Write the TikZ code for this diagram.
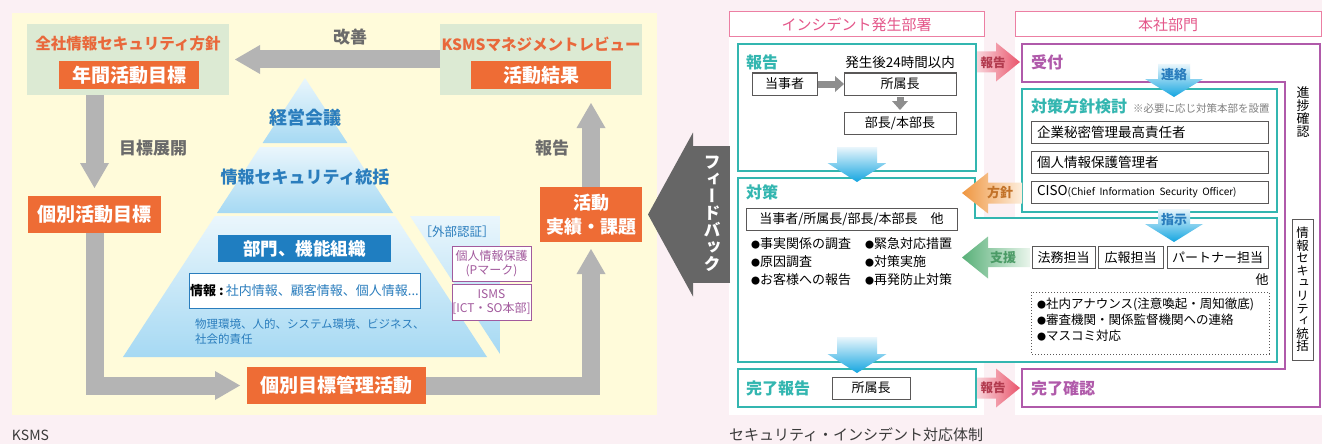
\documentclass[tikz,border=0pt]{standalone}
\usepackage{fontspec}
\setmainfont{Noto Sans CJK JP}
\newfontfamily\tatefont[RawFeature=+vert]{Noto Sans CJK JP}
\usetikzlibrary{arrows.meta}

\definecolor{pagebg}{HTML}{FBF0F4}
\definecolor{kspanel}{HTML}{FFFBDA}
\definecolor{ksgreen}{HTML}{DCEAD3}
\definecolor{ksorange}{HTML}{EE6C35}
\definecolor{kstitle}{HTML}{E9683B}
\definecolor{ksgray}{HTML}{B4B4B4}
\definecolor{kstext}{HTML}{6B6B6B}
\definecolor{pyrtop}{HTML}{EAF6FC}
\definecolor{pyrbot}{HTML}{A6D9F3}
\definecolor{pyrblue}{HTML}{2A7DBD}
\definecolor{orgblue}{HTML}{1F7EC1}
\definecolor{certpurple}{HTML}{A25A9D}
\definecolor{fbgray}{HTML}{666666}
\definecolor{headpink}{HTML}{EC7FA3}
\definecolor{headtext}{HTML}{E4578A}
\definecolor{tealc}{HTML}{33B6B0}
\definecolor{hqpurple}{HTML}{B05AAA}
\definecolor{boxgray}{HTML}{5A5858}
\definecolor{arrowgray}{HTML}{8E8E8E}
\definecolor{bluetop}{HTML}{EAF6FC}
\definecolor{bluebot}{HTML}{14A5E0}
\definecolor{rptlight}{HTML}{F9D7DD}
\definecolor{rptdark}{HTML}{E9546B}
\definecolor{rpttext}{HTML}{B23A4E}
\definecolor{hoshinc}{HTML}{EF9640}
\definecolor{hoshinlight}{HTML}{FDEEDD}
\definecolor{hoshintext}{HTML}{C27228}
\definecolor{shienc}{HTML}{58B078}
\definecolor{shienlight}{HTML}{EAF5EC}
\definecolor{shientext}{HTML}{4B9B66}
\definecolor{notegray}{HTML}{808080}
\definecolor{captext}{HTML}{3A3A3A}

\newcommand\jfs[1]{\fontsize{#1}{#1}\selectfont}
\newcommand\blt{{\jfs{9}●}}

\begin{document}
\begin{tikzpicture}[x=1pt,y=-1pt]
  \tikzstyle{every node}=[inner sep=0pt,outer sep=0pt]
  \tikzstyle{greenbox}=[fill=ksgreen,minimum width=202pt,minimum height=71pt]
  \tikzstyle{greentitle}=[text=kstitle,font=\bfseries\jfs{15.5}]
  \tikzstyle{orangebox}=[fill=ksorange,text=white,font=\bfseries\jfs{19}]
  \tikzstyle{grayarrow}=[draw=ksgray,line width=18pt,-{Triangle[length=25pt,width=29pt,line width=0pt]}]
  \tikzstyle{graylabel}=[text=kstext,font=\bfseries\jfs{17}]
  \tikzstyle{tier}=[top color=pyrtop,bottom color=pyrbot]
  \tikzstyle{pyrlabel}=[text=pyrblue,font=\bfseries\jfs{18}]
  \tikzstyle{certbox}=[draw=certpurple,line width=1pt,fill=white,text=certpurple,minimum width=79pt,align=center,font=\fontsize{12}{14}\selectfont]
  \tikzstyle{fbarrow}=[draw=fbgray,line width=137pt,-{Triangle[length=45pt,width=164pt,line width=0pt]}]
  \tikzstyle{headbox}=[draw=headpink,line width=1pt,fill=white,text=headtext,minimum height=25pt,font=\jfs{15}]
  \tikzstyle{tealbox}=[draw=tealc,line width=1.5pt,fill=white]
  \tikzstyle{teallabel}=[text=tealc,font=\bfseries\jfs{16},anchor=west]
  \tikzstyle{smallbox}=[draw=boxgray,line width=1pt,fill=white,minimum height=22pt,font=\jfs{13}]
  \tikzstyle{rolebox}=[smallbox,minimum width=237pt,text width=225pt,align=left,font=\jfs{13.5}]
  \tikzstyle{smallarrow}=[draw=arrowgray,line width=7pt,-{Triangle[length=9pt,width=16pt,line width=0pt]}]
  \tikzstyle{bluearrow}=[top color=bluetop,bottom color=bluebot]
  \tikzstyle{pinkarrow}=[left color=rptlight,right color=rptdark]
  \tikzstyle{bullets}=[anchor=north west,align=left,font=\fontsize{13}{18}\selectfont]
  \tikzstyle{tate}=[align=center]

  % backgrounds
  \fill[pagebg] (0,0) rectangle (1322,444);
  \useasboundingbox (0,0) rectangle (1322,444);
  \fill[kspanel] (12,13) rectangle (657,415);
  \fill[white] (729,12) rectangle (984,415);
  \fill[white] (1015,12) rectangle (1322,415);

  % KSMS cycle
  \node[greenbox] (policy) at (128,59.5) {};
  \node[greentitle] (policytitle) at (128,44) {全社情報セキュリティ方針};
  \node[orangebox,minimum width=140pt,minimum height=28pt] (annual) at (129,75) {年間活動目標};
  \node[greenbox] (review) at (541,59.5) {};
  \node[greentitle] (reviewtitle) at (541,44) {KSMSマネジメントレビュー};
  \node[orangebox,minimum width=140pt,minimum height=28pt] (results) at (541,75) {活動結果};
  \node[orangebox,minimum width=133pt,minimum height=37pt] (goal) at (94.5,214.5) {個別活動目標};
  \node[orangebox,minimum width=179pt,minimum height=37pt] (manage) at (336.5,385.5) {個別目標管理活動};
  \node[orangebox,minimum width=102pt,minimum height=55pt,align=center,font=\bfseries\fontsize{18}{24}\selectfont] (result) at (591,214.5) {活動\\実績・課題};

  \draw[grayarrow] (review.west) -- ([xshift=6pt]policy.east);
  \draw[grayarrow] (goal.north |- policy.south) -- ([yshift=8pt]goal.north);
  \draw[grayarrow] (goal.south) |- ([xshift=-7pt]manage.west);
  \draw[grayarrow] (manage.east) -| ([yshift=-7pt]result.south);
  \draw[grayarrow] (result.north) -- ([yshift=-8pt]result.north |- review.south);
  \node[graylabel] (kaizen) at (350,37) {改善};
  \node[graylabel] (tenkai) at (153,148) {目標展開};
  \node[graylabel] (houkoku) at (552,148) {報告};

  % pyramid
  \shade[tier] (305,78) -- (347.4,143) -- (262.6,143) -- cycle;
  \shade[tier] (260,147) -- (350,147) -- (393,213) -- (217,213) -- cycle;
  \shade[tier] (215,216) -- (395,216) -- (487,357) -- (123,357) -- cycle;
  \shade[tier] (410,216) -- (500,216) -- (500,354) -- cycle;
  \node[pyrlabel] (board) at (305,118) {経営会議};
  \node[pyrlabel,font=\bfseries\jfs{17}] (security) at (305,177) {情報セキュリティ統括};
  \node[fill=orgblue,text=white,font=\bfseries\jfs{17.5},minimum width=173pt,minimum height=27pt] (dept) at (304.5,248.5) {部門、機能組織};
  \node[draw=pyrblue,line width=1pt,fill=white,minimum width=231pt,minimum height=35pt,text=pyrblue,font=\jfs{13}] (info) at (304.5,290.5) {{\color{black}\bfseries 情報 :}\,社内情報、顧客情報、個人情報...};
  \node[anchor=north west,align=left,text=pyrblue,font=\fontsize{11.5}{15}\selectfont] (scope) at (195,319) {物理環境、人的、システム環境、ビジネス、\\社会的責任};
  \node[text=pyrblue,font=\jfs{12.5}] (external) at (457,232) {［外部認証］};
  \node[certbox,minimum height=35pt] (pmark) at (491.5,263.5) {個人情報保護\\(Pマーク)};
  \node[certbox,minimum height=36pt] (isms) at (491.5,302) {ISMS\\{[ICT・SO本部]}};

  % feedback
  \coordinate (fbstart) at (730,214.5);
  \draw[fbarrow] (fbstart) -- ([xshift=6pt]result.east);
  \node[tate,text=white,font=\tatefont\bfseries\fontsize{17}{17}\selectfont] (feedback) at (712,214) {フ\\ィ\\ー\\ド\\バ\\ッ\\ク};

  % incident side
  \node[headbox,minimum width=255pt] (incident) at (856.5,24.5) {インシデント発生部署};
  \node[headbox,minimum width=306pt] (hq) at (1168,24.5) {本社部門};
  \draw[hqpurple,line width=1.2pt] (1022,44) -- (1320,44) -- (1320,407) -- (1022,407) -- (1022,369) -- (1285,369) -- (1285,82) -- (1022,82) -- cycle;
  \node[text=hqpurple,font=\bfseries\jfs{16},anchor=west] (uketsuke) at (1031,62) {受付};
  \node[text=hqpurple,font=\bfseries\jfs{16},anchor=west] (kakunin) at (1031,388) {完了確認};

  \node[tealbox,minimum width=238pt,minimum height=127pt] (rpt) at (857,107.5) {};
  \node[teallabel] (rptlabel) at (746,62) {報告};
  \node[font=\jfs{13.5}] (within) at (900,62) {発生後24時間以内};
  \node[smallbox,minimum width=65pt] (tojisha) at (784.5,84) {当事者};
  \node[smallbox,minimum width=112pt] (shozoku) at (900,84) {所属長};
  \node[smallbox,minimum width=112pt] (bucho) at (900,123) {部長/本部長};
  \draw[smallarrow] ([xshift=1pt]tojisha.east) -- (shozoku.west);
  \draw[smallarrow,shorten <=2pt,shorten >=2pt] (shozoku.south) -- (bucho.north);

  \draw[tealbox] (738,178) -- (975,178) -- (975,218) -- (1277,218) -- (1277,362) -- (738,362) -- cycle;
  \node[teallabel] (taisaku) at (746,192) {対策};
  \node[smallbox,minimum width=211pt] (members) at (851.5,219) {当事者/所属長/部長/本部長\quad 他};
  \node[bullets] (acts1) at (751,238) {\blt 事実関係の調査\\\blt 原因調査\\\blt お客様への報告};
  \node[bullets] (acts2) at (865,238) {\blt 緊急対応措置\\\blt 対策実施\\\blt 再発防止対策};

  \node[tealbox,minimum width=238pt,minimum height=38pt] (kanryo) at (857,388) {};
  \node[teallabel] (kanryolabel) at (746,388) {完了報告};
  \node[smallbox,minimum width=78pt] (shozoku2) at (871,388) {所属長};

  \node[tealbox,minimum width=255pt,minimum height=123pt] (hoshin) at (1149.5,150.5) {};
  \node[teallabel] (hoshinlabel) at (1031,106) {対策方針検討};
  \node[anchor=west,text=notegray,font=\jfs{10.5}] (note) at (1133,108) {※必要に応じ対策本部を設置};
  \node[rolebox] (cso) at (1149.5,132) {企業秘密管理最高責任者};
  \node[rolebox] (privacy) at (1149.5,162) {個人情報保護管理者};
  \node[rolebox] (ciso) at (1149.5,192) {CISO{\jfs{10}(Chief Information Security Officer)}};

  \node[smallbox,minimum width=63pt] (legal) at (1063.5,257.5) {法務担当};
  \node[smallbox,minimum width=65pt] (pr) at (1130.5,257.5) {広報担当};
  \node[smallbox,minimum width=101pt] (partner) at (1217.5,257.5) {パートナー担当};
  \node[font=\jfs{13}] (others) at (1262,280) {他};
  \draw[boxgray,dotted,line width=1pt] (1031,292) rectangle (1269,354);
  \node[bullets,font=\fontsize{12.5}{16}\selectfont] (announce) at (1037,298) {\blt 社内アナウンス(注意喚起・周知徹底)\\\blt 審査機関・関係監督機関への連絡\\\blt マスコミ対応};

  \node[tate,font=\tatefont\fontsize{13}{13}\selectfont] (shinchoku) at (1303,112) {進\\捗\\確\\認};
  \node[draw=boxgray,line width=0.8pt,fill=white,minimum width=21pt,minimum height=141pt] (tokatsu) at (1302.5,289.5) {};
  \node[tate,font=\tatefont\fontsize{12.5}{12.6}\selectfont] (tokatsutext) at (tokatsu) {情\\報\\セ\\キ\\ュ\\リ\\テ\\ィ\\統\\括};

  % flow arrows
  \shade[bluearrow] ([yshift=24pt]rpt.south) ++(-20,0) -- ++(40,0) -- ++(0,16) -- ++(9.5,0) -- ++(-29.5,19) -- ++(-29.5,-19) -- ++(9.5,0) -- cycle;
  \shade[bluearrow] ([yshift=32pt]kanryo.north) ++(-20,0) -- ++(40,0) -- ++(0,17) -- ++(9.5,0) -- ++(-29.5,19) -- ++(-29.5,-19) -- ++(9.5,0) -- cycle;
  \coordinate (renraku) at (1174,64);
  \coordinate (shiji) at (1174,209);
  \shade[bluearrow] (renraku) ++(-16,0) -- ++(32,0) -- ++(0,15) -- ++(13,0) -- ++(-29,18) -- ++(-29,-18) -- ++(13,0) -- cycle;
  \shade[bluearrow] (shiji) ++(-16,0) -- ++(32,0) -- ++(0,15) -- ++(13,0) -- ++(-29,18) -- ++(-29,-18) -- ++(13,0) -- cycle;
  \node[text=pyrblue,font=\bfseries\jfs{13}] (renrakutext) at (1174,75) {連絡};
  \node[text=pyrblue,font=\bfseries\jfs{13}] (shijitext) at (1174,220) {指示};

  \coordinate (rp1) at (rpt.east |- uketsuke);
  \coordinate (rp2) at (kanryo.east);
  \shade[pinkarrow] (rp1) ++(1,-10.5) -- ++(19,0) -- ++(0,-9) -- ++(24,19.5) -- ++(-24,19.5) -- ++(0,-9) -- ++(-19,0) -- cycle;
  \shade[pinkarrow] (rp2) ++(1,-10.5) -- ++(19,0) -- ++(0,-9) -- ++(24,19.5) -- ++(-24,19.5) -- ++(0,-9) -- ++(-19,0) -- cycle;
  \node[text=rpttext,font=\bfseries\jfs{12.5}] (rpt1text) at (993,62.5) {報告};
  \node[text=rpttext,font=\bfseries\jfs{12.5}] (rpt2text) at (993,388) {報告};

  \coordinate (hs) at (hoshin.west |- 0,193);
  \coordinate (sh) at (1030,257.5);
  \shade[left color=hoshinc,right color=hoshinlight] (hs) ++(0,-10.5) -- ++(-34,0) -- ++(0,-10) -- ++(-26,20.5) -- ++(26,20.5) -- ++(0,-10) -- ++(34,0) -- cycle;
  \shade[left color=shienc,right color=shienlight] (sh) ++(0,-9.5) -- ++(-42,0) -- ++(0,-11.5) -- ++(-26,21) -- ++(26,21) -- ++(0,-11.5) -- ++(42,0) -- cycle;
  \node[text=hoshintext,font=\bfseries\jfs{13}] (hoshintext) at (1000,193) {方針};
  \node[text=shientext,font=\bfseries\jfs{13}] (shientext) at (1003,258) {支援};

  % captions
  \node[anchor=west,text=captext,font=\jfs{14}] (capleft) at (12,435) {KSMS};
  \node[anchor=west,text=captext,font=\jfs{15}] (capright) at (729,435) {セキュリティ・インシデント対応体制};
\end{tikzpicture}
\end{document}
